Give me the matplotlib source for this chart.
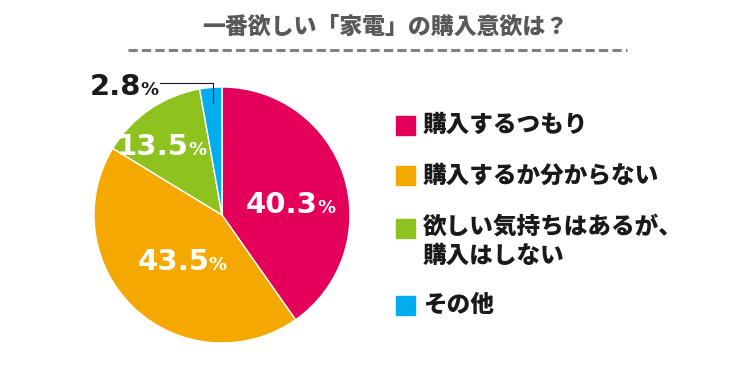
import numpy as np
import matplotlib.pyplot as plt

plt.rcParams['font.family'] = ['Noto Sans CJK JP', 'DejaVu Sans']

# データ
labels = ['購入するつもり', '購入するか分からない', '欲しい気持ちはあるが、\n購入はしない', 'その他']
values = [40.3, 43.5, 13.5, 2.8]
colors = ['#E4005A', '#F5A800', '#8DC21F', '#00AEEF']

# ラベル位置（円の半径を1とした座標、数字と%の境目・ベースライン）
label_pos = [(0.75, 0.016), (-0.10, -0.43), (-0.26, 0.47), (-0.63, 0.9375)]
label_col = ['white', 'white', 'white', '#1a1a1a']

W, H = 755, 380
fig = plt.figure(figsize=(W / 100, H / 100), dpi=100)

# タイトルと点線
fig.text(385 / W, 1 - 28 / H, '一番欲しい「家電」の購入意欲は？', ha='center', va='center',
         fontsize=16.5, fontweight='heavy', color='#595959')
fig.add_artist(plt.Line2D([128 / W, 627 / W], [1 - 50 / H, 1 - 50 / H], color='#808080',
                          linewidth=2.2, linestyle=(0, (3, 1.4))))

# 円グラフ
cx, cy, r = 222, 215, 128
ax = fig.add_axes([(cx - r) / W, (H - cy - r) / H, 2 * r / W, 2 * r / H])
wedges, _ = ax.pie(values, colors=colors, startangle=90, counterclock=False,
                   wedgeprops=dict(edgecolor='white', linewidth=1))
ax.set_xlim(-1, 1)
ax.set_ylim(-1, 1)
ax.set_aspect('equal')
ax.axis('off')

for val, (x, y), col in zip(values, label_pos, label_col):
    ax.text(x, y, f'{val}', ha='right', va='baseline', fontsize=21,
            fontweight='bold', color=col, family='DejaVu Sans', clip_on=False)
    ax.text(x - 0.005, y, '%', ha='left', va='baseline', fontsize=13,
            fontweight='bold', color=col, family='DejaVu Sans', clip_on=False)

# 2.8% の引き出し線
ax.plot([-0.07, -0.07, -0.484], [0.875, 1.031, 1.031], color='#1a1a1a',
        linewidth=0.8, clip_on=False)

# 凡例
rows_y = [125, 175, 228, 305]
text_y = [125, 175, 241, 305]
for lab, col, yy, ty in zip(labels, colors, rows_y, text_y):
    fig.patches.append(plt.Rectangle((396 / W, 1 - (yy + 10) / H), 19 / W, 19 / H,
                                     transform=fig.transFigure, color=col))
    fig.text(423 / W, 1 - ty / H, lab, ha='left', va='center',
             fontsize=17, fontweight='heavy', color='#1a1a1a', linespacing=1.2)

plt.savefig('out.png', dpi=100)
